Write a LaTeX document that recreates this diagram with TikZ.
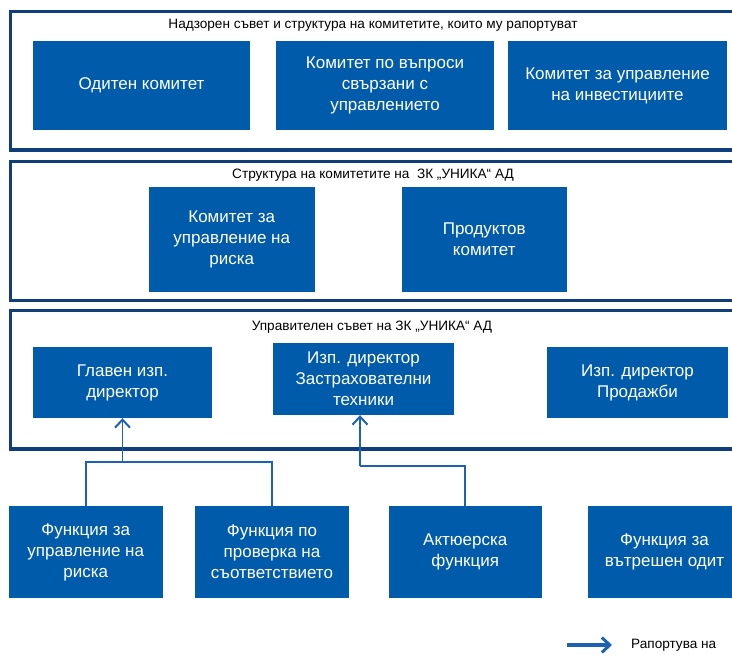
\documentclass[tikz,border=0pt]{standalone}
\usepackage{fontspec}
\setmainfont{Liberation Sans}
\usetikzlibrary{arrows.meta,positioning,calc}
\definecolor{boxblue}{RGB}{0,91,170}
\definecolor{framenavy}{RGB}{16,62,122}
\definecolor{linkblue}{RGB}{28,98,178}

\begin{document}
\begin{tikzpicture}[
  x=1pt, y=-1pt,
  unit/.style={rectangle, fill=boxblue, text=white, inner sep=2pt, align=center, font=\fontsize{17}{21}\selectfont},
  panel/.style={rectangle, draw=framenavy, line width=3.5pt, anchor=north west, minimum width=740pt, inner sep=0pt},
  title/.style={font=\fontsize{13.6}{15}\selectfont, inner sep=1pt},
  link/.style={draw=linkblue, line width=1.7pt},
  arrow/.style={link, -{Straight Barb[length=8pt,width=15pt,line width=2pt]}},
  keyarrow/.style={draw=linkblue, line width=3.4pt, -{Straight Barb[length=8pt,width=15pt,line width=3pt]}}
]
\useasboundingbox (0,0) rectangle (732,655);

% Top: Supervisory board and its committees
\node[panel, minimum height=138.5pt] (supboard) at (8.5,10) {};
\node[title] (suptitle) at (373,25) {Надзорен съвет и структура на комитетите, които му рапортуват};
\node[unit, minimum width=217pt, minimum height=89pt] (audit) at (141.5,85.5) {Одитен комитет};
\node[unit, minimum width=218pt, minimum height=89pt] (govern) at (385,85.5) {Комитет по въпроси\\свързани с\\управлението};
\node[unit, minimum width=219pt, minimum height=89pt] (invest) at (617.5,85.5) {Комитет за управление\\на инвестициите};

% Middle: Company committees
\node[panel, minimum height=139pt] (compboard) at (8.5,160) {};
\node[title] (comptitle) at (373,175) {Структура на комитетите на\ \ ЗК „УНИКА“ АД};
\node[unit, minimum width=166.5pt, minimum height=105pt] (riskcom) at (231.75,239.5) {Комитет за\\управление на\\риска};
\node[unit, minimum width=165.5pt, minimum height=105pt] (prodcom) at (484.25,239.5) {Продуктов\\комитет};

% Management board
\node[panel, minimum height=138.5pt] (mgmtboard) at (8.5,309) {};
\node[title] (mgmttitle) at (372,327) {Управителен съвет на ЗК „УНИКА“ АД};
\node[unit, minimum width=179pt, minimum height=71pt] (ceo) at (122.5,382.5) {Главен изп.\\директор};
\node[unit, minimum width=181pt, minimum height=72pt] (exins) at (363.5,379) {Изп. директор\\Застрахователни\\техники};
\node[unit, minimum width=181pt, minimum height=71pt] (exsales) at (637.5,382.5) {Изп. директор\\Продажби};

% Bottom: Key functions
\node[unit, minimum width=153.5pt, minimum height=92pt] (riskfn) at (85.75,552) {Функция за\\управление на\\риска};
\node[unit, minimum width=154pt, minimum height=92pt] (complfn) at (272,552) {Функция по\\проверка на\\съответствието};
\node[unit, minimum width=152.5pt, minimum height=92pt] (actfn) at (465.25,552) {Актюерска\\функция};
\node[unit, minimum width=153pt, minimum height=92pt] (auditfn) at (664.5,552) {Функция за\\вътрешен одит};

% Reporting lines
\coordinate (ceojoin) at (122.5,462);
\coordinate (insjoin) at (360,466);
\draw[link] (riskfn) |- (ceojoin) -| (complfn);
\draw[arrow] (ceojoin) -- (ceo.south -| ceojoin);
\draw[link] (actfn) |- (insjoin);
\draw[arrow] (insjoin) -- (exins.south -| insjoin);

% Legend
\coordinate (keystart) at (567,645);
\coordinate (keyend) at (612,645);
\draw[keyarrow] (keystart) -- (keyend);
\node[title, anchor=west] (keytext) at (630,645) {Рапортува на};

\end{tikzpicture}
\end{document}
